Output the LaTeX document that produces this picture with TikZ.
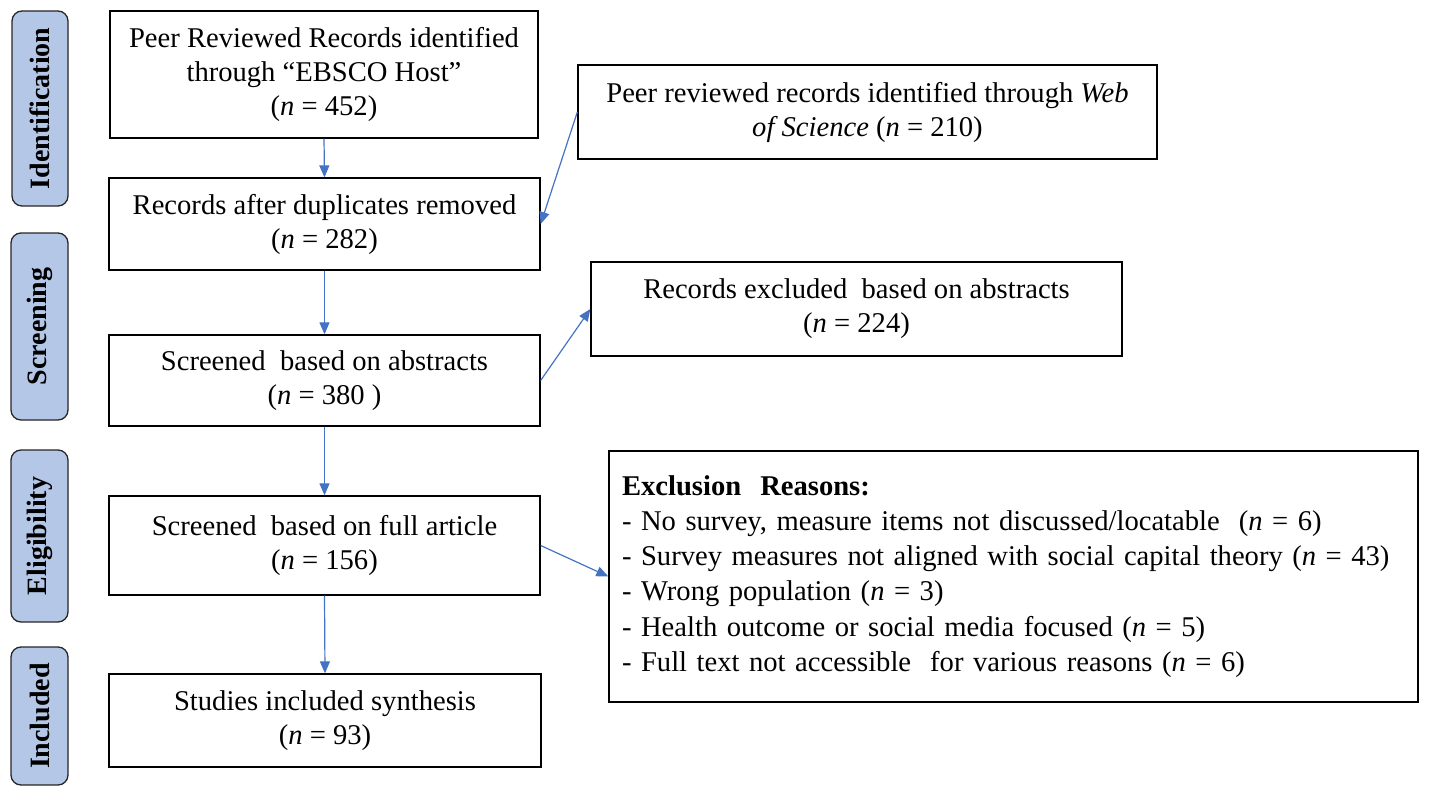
\documentclass[tikz,border=0pt]{standalone}
\usepackage{fontspec}
\setmainfont{Liberation Serif}
\usetikzlibrary{arrows.meta}
\definecolor{stagefill}{RGB}{180,199,231}
\definecolor{arrowblue}{RGB}{68,114,196}
\tikzset{
  box/.style={draw, line width=1.3pt, align=center, inner sep=0pt,
    font=\fontsize{28.6}{34}\selectfont},
  stage/.style={draw=black!85, fill=stagefill, line width=1.3pt, rounded corners=10pt,
    rotate=90, inner sep=0pt, font=\fontsize{28}{30}\selectfont\bfseries},
  flow/.style={draw=arrowblue, line width=1.2pt, -{Triangle[length=12pt,width=10pt]}}
}
\begin{document}
\begin{tikzpicture}[x=1pt, y=-1pt]
  \useasboundingbox (0,0) rectangle (1429,797);
  % stages
  \node[stage, minimum width=195, minimum height=56] (sid) at (40,108.5) {Identification};
  \node[stage, minimum width=187, minimum height=57] (sscr) at (39.5,326.5) {Screening};
  \node[stage, minimum width=172, minimum height=57] (selig) at (39.5,536) {Eligibility};
  \node[stage, minimum width=138, minimum height=57] (sincl) at (39.5,716) {Included};

  % main column
  \node[box, minimum width=428, minimum height=127] (ebsco) at (324,74.5)
    {Peer Reviewed Records identified\\ through “EBSCO Host”\\ (\textit{n} = 452)};
  \node[box, minimum width=431, minimum height=92] (dup) at (324.5,224)
    {Records after duplicates removed\\ (\textit{n} = 282)};
  \node[box, minimum width=431, minimum height=91] (abs) at (324.5,380.5)
    {Screened\ \ based on abstracts\\ (\textit{n} = 380 )};
  \node[box, minimum width=431, minimum height=99] (full) at (324.5,545.5)
    {Screened\ \ based on full article\\ (\textit{n} = 156)};
  \node[box, minimum width=432, minimum height=93] (incl) at (325,720.5)
    {Studies included synthesis\\ (\textit{n} = 93)};

  % side boxes
  \node[box, minimum width=579, minimum height=94] (wos) at (867.5,112)
    {Peer reviewed records identified through \textit{Web}\\ \textit{of Science} (\textit{n} = 210)};
  \node[box, minimum width=531, minimum height=94] (excl) at (856.5,309)
    {Records excluded\ \ based on abstracts\\ (\textit{n} = 224)};
  \node[box, align=left, text width=783, minimum height=251, inner sep=13pt,
    font=\fontsize{28.6}{35.2}\selectfont] (why) at (1013.5,576.5)
    {\textbf{Exclusion\ \ Reasons:}\\
     - No survey, measure items not discussed/locatable\ \ (\textit{n} = 6)\\
     - Survey measures not aligned with social capital theory (\textit{n} = 43)\\
     - Wrong population (\textit{n} = 3)\\
     - Health outcome or social media focused (\textit{n} = 5)\\
     - Full text not accessible\ \ for various reasons (\textit{n} = 6)};

  % arrows
  \draw[flow] (ebsco.south) -- (dup.north);
  \draw[flow] (wos.west) -- (dup.east);
  \draw[flow] (dup.south) -- (abs.north);
  \draw[flow] (abs.east) -- (excl.west);
  \draw[flow] (abs.south) -- (full.north);
  \draw[flow] (full.east) -- (why.west);
  \draw[flow] (full.south) -- (incl.north);
\end{tikzpicture}
\end{document}
